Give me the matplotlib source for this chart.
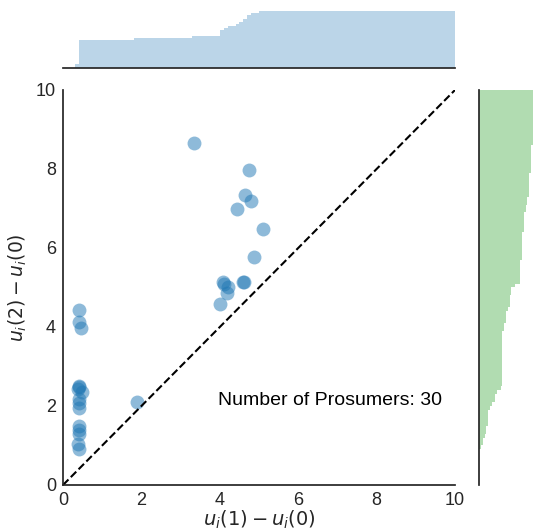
import numpy as np
import matplotlib
matplotlib.use("Agg")
from matplotlib import pyplot as plt

plt.rcParams['font.family'] = ['Liberation Sans', 'DejaVu Sans']

# gains from one extra unit vs. two units, one point per prosumer
gain_1 = [0.40, 0.40, 0.45, 0.40, 0.41, 0.39, 0.48, 0.40, 0.40, 0.40,
          0.40, 0.42, 0.40, 0.37, 0.40,
          3.34, 1.89, 4.74, 4.64, 4.80, 4.44, 5.10, 4.87, 4.07, 4.10,
          4.22, 4.18, 4.00, 4.58, 4.62]
gain_2 = [4.43, 4.12, 3.98, 2.50, 2.47, 2.44, 2.35, 2.17, 2.07, 1.96,
          1.50, 1.39, 1.28, 1.05, 0.91,
          8.66, 2.10, 7.97, 7.34, 7.19, 6.99, 6.48, 5.77, 5.15, 5.10,
          5.02, 4.86, 4.58, 5.14, 5.14]
n_prosumers = len(gain_1)
ticks = [0, 2, 4, 6, 8, 10]
bins = np.linspace(0, 10, 101)

fig = plt.figure(figsize=(5.35, 5.29), dpi=100)
ax = fig.add_axes([0.1178, 0.0832, 0.7327, 0.7467])
ax_top = fig.add_axes([0.1178, 0.8709, 0.7327, 0.1140])
ax_right = fig.add_axes([0.8957, 0.0832, 0.1050, 0.7467])

ax.scatter(gain_1, gain_2, s=100, color='#1f77b4', alpha=0.5, linewidths=0)
ax.plot([0, 10], [0, 10], '--', color='black', lw=1.5)
ax.text(3.95, 2.15, 'Number of Prosumers: %d' % n_prosumers, fontsize=14,
        va='center', ha='left', color='black')

ax.set_xlim(0, 10)
ax.set_ylim(0, 10)
ax.set_xticks(ticks)
ax.set_yticks(ticks)
ax.tick_params(length=0, labelsize=13, colors='#262626', pad=5)
ax.set_xlabel('$u_i(1) - u_i(0)$', fontsize=14, color='#262626', labelpad=0)
ax.set_ylabel('$u_i(2) - u_i(0)$', fontsize=13.5, color='#262626', labelpad=5)
for s in ['top', 'right']:
    ax.spines[s].set_visible(False)
for s in ['left', 'bottom']:
    ax.spines[s].set_color('#262626')
    ax.spines[s].set_linewidth(1.25)

# cumulative marginals
ax_top.hist(gain_1, bins=bins, cumulative=True, histtype='stepfilled',
            color='#1f77b4', alpha=0.3, linewidth=0)
ax_top.set_xlim(0, 10)
ax_top.set_ylim(0, n_prosumers * 1.05)
ax_top.set_xticks([])
ax_top.set_yticks([])
for s in ['top', 'right', 'left']:
    ax_top.spines[s].set_visible(False)
ax_top.spines['bottom'].set_color('#262626')
ax_top.spines['bottom'].set_linewidth(1.25)

ax_right.hist(gain_2, bins=bins, cumulative=True, histtype='stepfilled',
              orientation='horizontal', color='#2ca02c', alpha=0.37, linewidth=0)
ax_right.set_ylim(0, 10)
ax_right.set_xlim(0, n_prosumers * 1.05)
ax_right.set_xticks([])
ax_right.set_yticks([])
for s in ['top', 'right', 'bottom']:
    ax_right.spines[s].set_visible(False)
ax_right.spines['left'].set_color('#262626')
ax_right.spines['left'].set_linewidth(1.25)

fig.savefig('out.png', dpi=100)
